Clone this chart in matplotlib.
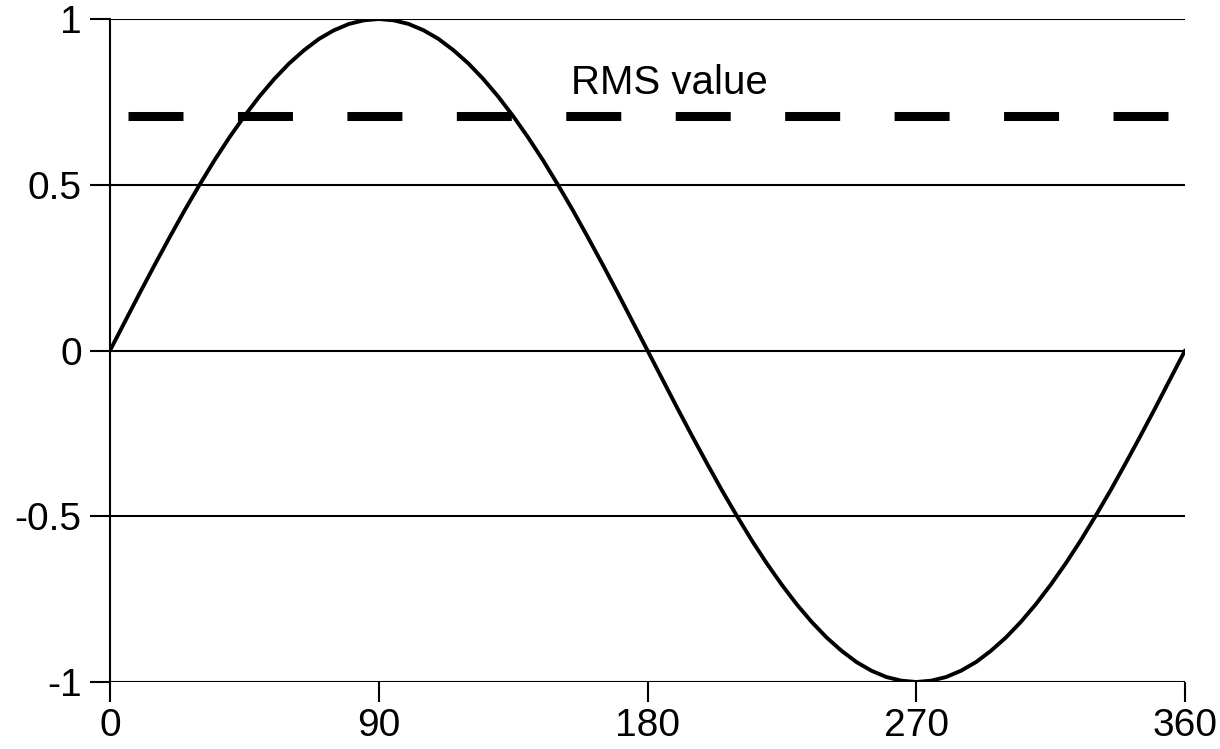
import matplotlib
matplotlib.use("Agg")
import matplotlib.pyplot as plt

plt.rcParams['font.family'] = ['Liberation Sans', 'DejaVu Sans']
plt.rcParams['lines.scale_dashes'] = False

# Data (angle in degrees, value)
angles = list(range(0, 361, 5))
values = [0.0, 0.087, 0.174, 0.259, 0.342, 0.423, 0.5, 0.574, 0.643, 0.707,
          0.766, 0.819, 0.866, 0.906, 0.940, 0.966, 0.985, 0.996, 1.0,
          0.996, 0.985, 0.966, 0.940, 0.906, 0.866, 0.819, 0.766, 0.707,
          0.643, 0.574, 0.5, 0.423, 0.342, 0.259, 0.174, 0.087, 0.0,
          -0.087, -0.174, -0.259, -0.342, -0.423, -0.5, -0.574, -0.643, -0.707,
          -0.766, -0.819, -0.866, -0.906, -0.940, -0.966, -0.985, -0.996, -1.0,
          -0.996, -0.985, -0.966, -0.940, -0.906, -0.866, -0.819, -0.766, -0.707,
          -0.643, -0.574, -0.5, -0.423, -0.342, -0.259, -0.174, -0.087, 0.0]
rms_value = 0.707
rms_x = [6.0, 354.6]
rms_label = "RMS value"
x_ticks = [0, 90, 180, 270, 360]
x_tick_labels = ["0", "90", "180", "270", "360"]
y_ticks = [-1, -0.5, 0, 0.5, 1]
y_tick_labels = ["-1", "-0.5", "0", "0.5", "1"]

W, H = 1220, 749
fig = plt.figure(figsize=(W / 100, H / 100), dpi=100)
ax = fig.add_axes([110 / W, (H - 682) / H, (1185 - 110) / W, (682 - 19) / H])
ax.set_xlim(0, 360)
ax.set_ylim(-1, 1)

for yv in y_ticks:
    ax.axhline(yv, color='black', lw=1.5, zorder=1)

ax.plot(angles, values, color='black', lw=2.8, zorder=3, solid_capstyle='round')
ax.plot(rms_x, [rms_value, rms_value], color='black', lw=6.5,
        dashes=(39.6, 39.2), dash_capstyle='butt', zorder=2)
ax.text(154.5, 0.807, rms_label, fontsize=29, ha='left', va='center')

for s in ['top', 'right', 'bottom']:
    ax.spines[s].set_visible(False)
ax.spines['left'].set_linewidth(1.5)

ax.set_xticks(x_ticks)
ax.set_xticklabels(x_tick_labels)
ax.set_yticks(y_ticks)
ax.set_yticklabels(y_tick_labels)
ax.tick_params(axis='x', length=14.4, width=1.5, labelsize=28, pad=4, direction='out')
ax.tick_params(axis='y', length=14.4, width=1.5, labelsize=28, pad=6, direction='out')

fig.savefig("out.png", dpi=100, facecolor='white')
